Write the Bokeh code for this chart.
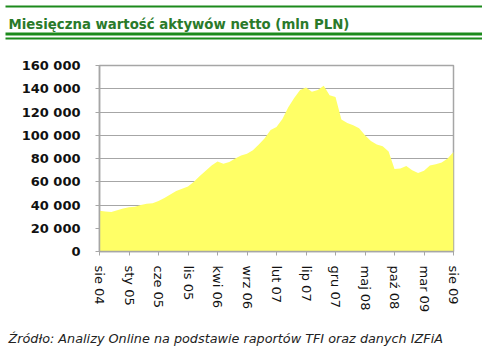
from bokeh.plotting import figure
from bokeh.layouts import column
from bokeh.models import Range1d, FixedTicker
from bokeh.core.properties import value
from bokeh.embed import file_html
from bokeh.resources import INLINE

# --- data (mln PLN), monthly from sie 04 to sie 09 ---
month_names = ["sty", "lut", "mar", "kwi", "maj", "cze",
               "lip", "sie", "wrz", "paź", "lis", "gru"]
start_year = 2004
start_month = 8
nav = [35000, 34500, 34000, 35500, 37000, 38000, 38500, 40000, 41000, 41500,
       43500, 46000, 49000, 52000, 54000, 56000, 60000, 65000, 69500, 74000,
       77500, 75500, 77000, 80000, 82500, 84000, 87000, 92000, 97500, 104500,
       107000, 114000, 124000, 132000, 139000, 141000, 137500, 139000, 142500, 134500,
       133000, 113500, 110500, 108500, 106000, 100000, 95000, 92000, 90500, 86000,
       71000, 71500, 73500, 70000, 67500, 69500, 74000, 75000, 76500, 80000,
       85500]
month_idx = list(range(len(nav)))
month_labels = []
for i in month_idx:
    m = (start_month - 1 + i) % 12
    y = start_year + (start_month - 1 + i) // 12
    month_labels.append(f"{month_names[m]} {y % 100:02d}")
x_ticks = list(range(0, len(nav), 5))
y_ticks = [0, 20000, 40000, 60000, 80000, 100000, 120000, 140000, 160000]

title_text = "Miesięczna wartość aktywów netto (mln PLN)"
source_text = "Źródło: Analizy Online na podstawie raportów TFI oraz danych IZFiA"

W = 482
TOP_H = 41          # header band (title + green rules)
MAIN_H = 274        # chart band
BOT_H = 36          # source band
FRAME_TOP, FRAME_BOTTOM, FRAME_LEFT, FRAME_RIGHT = 65, 253, 99, 453

def band(h, y0):
    f = figure(width=W, height=h, output_backend="svg", toolbar_location=None,
               x_range=Range1d(0, W), y_range=Range1d(y0 + h, y0),
               min_border=0, min_border_left=0, min_border_right=0,
               min_border_top=0, min_border_bottom=0, frame_align=False)
    f.axis.visible = False
    f.grid.visible = False
    f.outline_line_color = None
    f.background_fill_color = "white"
    f.border_fill_color = "white"
    return f

# header
green = "#1c8a1c"
head = band(TOP_H, 0)
head.quad(left=[5, 5, 5], right=[W, W, W], top=[5, 32, 37], bottom=[7, 35, 39],
          fill_color=green, line_color=None)
head.text(x=[8], y=[24], text=[title_text], text_font=value("DejaVu Sans"),
          text_font_style="bold", text_font_size="13.3px", text_color="#2a7a2a",
          text_baseline="alphabetic", text_align="left")

# main chart
p = figure(width=W, height=MAIN_H, output_backend="svg", toolbar_location=None,
           x_range=Range1d(0, 60), y_range=Range1d(0, 160000),
           min_border_left=FRAME_LEFT, min_border_right=W - FRAME_RIGHT,
           min_border_top=FRAME_TOP - TOP_H,
           min_border_bottom=TOP_H + MAIN_H - FRAME_BOTTOM, frame_align=False)
p.background_fill_color = "white"
p.border_fill_color = "white"
p.outline_line_color = "#a6a6a6"
p.outline_line_width = 1.5

p.varea(x=month_idx, y1=0, y2=nav, fill_color="#FFFF66", fill_alpha=1.0)

grid_col = "#a6a6a6"
p.xgrid.visible = False
p.ygrid.ticker = FixedTicker(ticks=y_ticks)
p.ygrid.grid_line_color = grid_col
p.ygrid.grid_line_width = 1

ya = p.yaxis[0]
ya.ticker = FixedTicker(ticks=y_ticks)
ya.major_label_overrides = {v: f"{v:,}".replace(",", " ") for v in y_ticks}
ya.axis_line_color = grid_col
ya.axis_line_width = 1.5
ya.major_tick_line_color = grid_col
ya.major_tick_in = 0
ya.major_tick_out = 4
ya.minor_tick_line_color = None
ya.major_label_standoff = 15
ya.major_label_text_font = "DejaVu Sans"
ya.major_label_text_font_style = "bold"
ya.major_label_text_font_size = "13px"
ya.major_label_text_color = "#111111"

xa = p.xaxis[0]
xa.ticker = FixedTicker(ticks=x_ticks)
xa.major_label_overrides = {i: month_labels[i] for i in x_ticks}
xa.major_label_orientation = "vertical"
xa.axis_line_color = grid_col
xa.axis_line_width = 1.5
xa.major_tick_line_color = grid_col
xa.major_tick_in = 0
xa.major_tick_out = 4
xa.minor_tick_line_color = None
xa.major_label_standoff = 10
xa.major_label_text_font = "DejaVu Sans"
xa.major_label_text_font_size = "13px"
xa.major_label_text_color = "#111111"

# source line
foot = band(BOT_H, TOP_H + MAIN_H)
foot.text(x=[8], y=[338], text=[source_text], text_font=value("DejaVu Sans"),
          text_font_style="italic", text_font_size="12.8px", text_color="#222222",
          text_baseline="middle", text_align="left")

layout = column(head, p, foot, spacing=0)
open("out.html", "w").write(file_html(layout, INLINE))
